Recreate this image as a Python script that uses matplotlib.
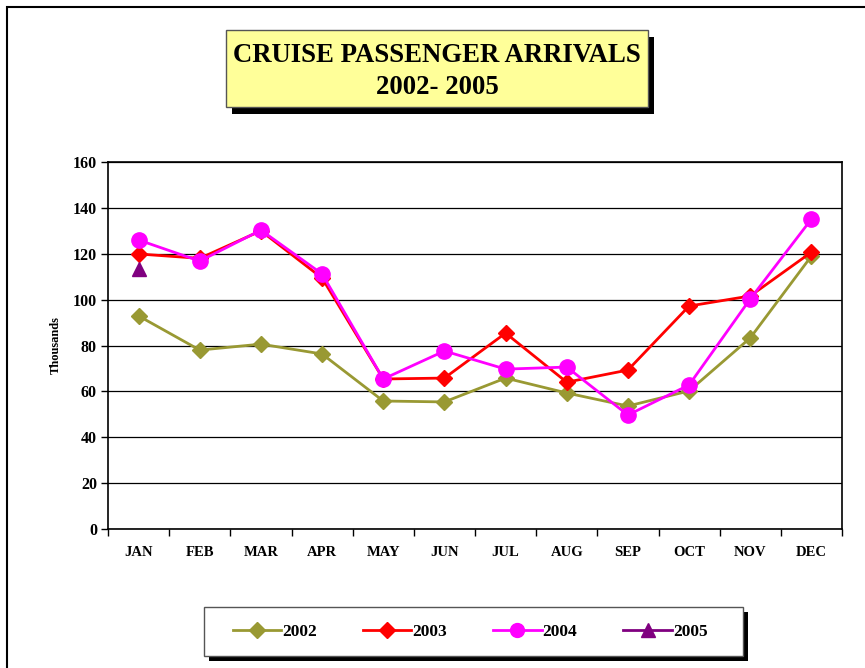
import numpy as np
import matplotlib.pyplot as plt
from matplotlib.patches import Rectangle
from matplotlib.lines import Line2D

plt.rcParams['font.family'] = ['Liberation Serif', 'DejaVu Serif']
plt.rcParams['font.weight'] = 'bold'

# 数据
months = ['JAN', 'FEB', 'MAR', 'APR', 'MAY', 'JUN',
          'JUL', 'AUG', 'SEP', 'OCT', 'NOV', 'DEC']
y2002 = [92.9, 78.0, 80.6, 76.3, 55.8, 55.4, 65.8, 59.3, 53.6, 60.2, 83.3, 119.0]
y2003 = [119.9, 118.0, 130.0, 109.4, 65.4, 65.8, 85.4, 64.0, 69.3, 97.2, 101.6, 120.7]
y2004 = [126.0, 116.8, 130.3, 111.2, 65.4, 77.6, 69.7, 70.6, 49.7, 62.8, 100.3, 135.1]
y2005 = [113.3]
years = ['2002', '2003', '2004', '2005']
colors = ['#999933', '#FF0000', '#FF00FF', '#800080']

W, H = 865, 668
fig = plt.figure(figsize=(W / 100, H / 100), dpi=100)

def fr(x0, y0, x1, y1):
    # 像素坐标 -> figure 坐标
    return (x0 / W, 1 - y1 / H, (x1 - x0) / W, (y1 - y0) / H)

# 外框
x, y, w, h = fr(7, 7, 880, 690)
fig.patches.append(Rectangle((x, y), w, h, transform=fig.transFigure,
                             fill=False, edgecolor='black', lw=1.5, zorder=0))

# 标题框
x, y, w, h = fr(232, 37, 654, 114)
fig.patches.append(Rectangle((x, y), w, h, transform=fig.transFigure,
                             facecolor='black', edgecolor='none', zorder=1))
x, y, w, h = fr(226, 30, 648, 107)
fig.patches.append(Rectangle((x, y), w, h, transform=fig.transFigure,
                             facecolor='#FFFF99', edgecolor='#555555', lw=1, zorder=2))
fig.text(437 / W, 1 - 55 / H, 'CRUISE PASSENGER ARRIVALS', ha='center', va='center',
         fontsize=19.3, fontweight='bold', zorder=3)
fig.text(437 / W, 1 - 88 / H, '2002- 2005', ha='center', va='center',
         fontsize=19.3, fontweight='bold', zorder=3)

# 主图
ax = fig.add_axes(fr(108, 162, 842, 529))
xs = np.arange(len(months))
ax.plot(xs, y2002, color=colors[0], lw=2, marker='D', ms=8.5, zorder=3)
ax.plot(xs, y2003, color=colors[1], lw=2, marker='D', ms=8.5, zorder=4)
ax.plot(xs, y2004, color=colors[2], lw=2, marker='o', ms=11, zorder=5)
ax.plot(xs[:len(y2005)], y2005, color=colors[3], lw=2, marker='^', ms=10.5, zorder=6)

ax.set_xlim(-0.5, 11.5)
ax.set_ylim(0, 160)
ax.set_yticks(np.arange(0, 161, 20))
ax.yaxis.grid(True, color='black', lw=0.9)
ax.set_axisbelow(True)
ax.set_xticks(xs)
ax.set_xticklabels(months, fontsize=10.5, fontweight='bold')
ax.set_xticks(np.arange(-0.5, 12, 1), minor=True)
ax.tick_params(axis='x', which='major', length=0, pad=12)
ax.tick_params(axis='x', which='minor', length=5, direction='out', width=1)
ax.tick_params(axis='y', length=5, direction='out', width=1, labelsize=11.5, pad=3)
for lab in ax.get_yticklabels():
    lab.set_fontweight('bold')
for s in ax.spines.values():
    s.set_color('black')
    s.set_linewidth(1.2)
ax.set_ylabel('Thousands', fontsize=9, fontweight='bold', labelpad=8)

# 图例框
x, y, w, h = fr(209, 612, 748, 661)
fig.patches.append(Rectangle((x, y), w, h, transform=fig.transFigure,
                             facecolor='black', edgecolor='none', zorder=1))
x, y, w, h = fr(204, 607, 743, 656)
fig.patches.append(Rectangle((x, y), w, h, transform=fig.transFigure,
                             facecolor='white', edgecolor='#555555', lw=1, zorder=2))
handles = [
    Line2D([], [], color=colors[0], lw=2, marker='D', ms=8),
    Line2D([], [], color=colors[1], lw=2, marker='D', ms=8),
    Line2D([], [], color=colors[2], lw=2, marker='o', ms=10),
    Line2D([], [], color=colors[3], lw=2, marker='^', ms=10),
]
leg = fig.legend(handles, years, loc='center', bbox_to_anchor=(470 / W, 1 - 632 / H),
                 ncol=4, frameon=False, handlelength=2.8, handletextpad=0.05,
                 columnspacing=2.65, prop={'size': 12.5, 'weight': 'bold'})
leg.set_zorder(4)

plt.savefig('out.png', dpi=100)
plt.close()
